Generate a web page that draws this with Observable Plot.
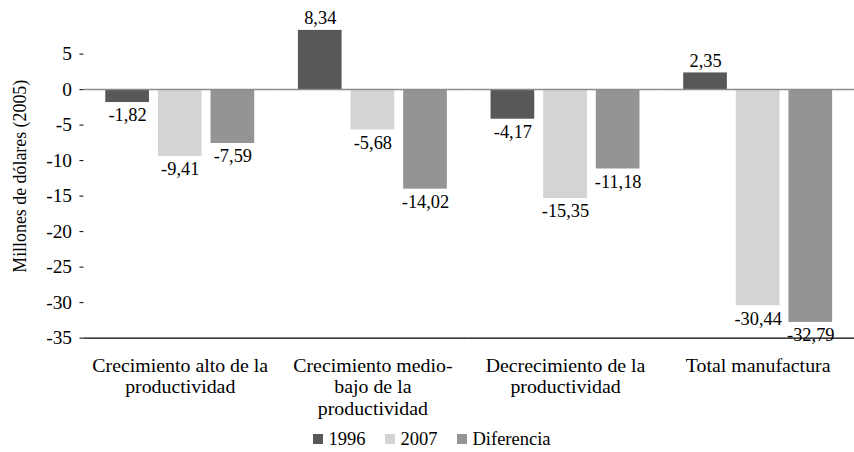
<!DOCTYPE html>
<html><head><meta charset="utf-8">
<script src="https://cdn.jsdelivr.net/npm/d3@7"></script>
<script src="https://cdn.jsdelivr.net/npm/@observablehq/plot@0.6"></script>
<style>
html,body{margin:0;padding:0;background:#fff;overflow:hidden;}
#chart{width:854px;height:428px;overflow:hidden;font-family:"Liberation Serif",serif;}
#legend{width:854px;display:flex;justify-content:center;padding-left:10px;box-sizing:border-box;}
.lg-swatches{margin:0 !important;font-family:"Liberation Serif",serif !important;font-size:18.5px !important;color:#000;}
.lg-swatches-wrap{min-height:0 !important;justify-content:center;height:22px;}
.lg-swatch{margin-right:20px !important;}
.lg-swatch:last-child{margin-right:0 !important;}
.lg-swatch svg{margin-right:5px !important;}
</style></head><body><div id="chart"></div><div id="legend"></div><script>
const categories = ["Crecimiento alto de la\nproductividad", "Crecimiento medio-\nbajo de la\nproductividad", "Decrecimiento de la\nproductividad", "Total manufactura"];
const series = ["1996", "2007", "Diferencia"];
const values1996 = [-1.82, 8.34, -4.17, 2.35];
const values2007 = [-9.41, -5.68, -15.35, -30.44];
const valuesDif = [-7.59, -14.02, -11.18, -32.79];
const yTicks = [5, 0, -5, -10, -15, -20, -25, -30, -35];
const colors = ["#58585a", "#d4d4d6", "#949496"];
const yLabel = "Millones de dólares (2005)";

const seriesValues = [values1996, values2007, valuesDif];
const data = [];
categories.forEach((c, i) => series.forEach((s, j) => data.push({cat: c, serie: s, value: seriesValues[j][i]})));
const fmt = v => v.toFixed(2).replace(".", ",");

const plot = Plot.plot({
  width: 860,
  height: 428,
  marginLeft: 84,
  marginRight: 0,
  marginTop: 54,
  marginBottom: 88,
  style: {fontFamily: "Liberation Serif", fontSize: "18px", color: "#000", background: "#fff", overflow: "visible"},
  fx: {domain: categories, padding: 0, label: null},
  x: {domain: series, paddingInner: 0.178, paddingOuter: 0.4, axis: null},
  y: {domain: [-35, 5], label: null},
  color: {domain: series, range: colors},
  marks: [
    Plot.barY(data, {fx: "cat", x: "serie", y: "value", fill: "serie"}),
    Plot.ruleY([0], {stroke: "#8c8c8c", strokeWidth: 1.5}),
    Plot.ruleY([-35], {stroke: "#000", strokeWidth: 1.3}),
    Plot.text(data.filter(d => d.value < 0), {fx: "cat", x: "serie", y: "value", text: d => fmt(d.value), dy: 13, fill: "#000", fontSize: 18.5}),
    Plot.text(data.filter(d => d.value >= 0), {fx: "cat", x: "serie", y: "value", text: d => fmt(d.value), dy: -12, fill: "#000", fontSize: 18.5}),
    Plot.axisY({ticks: yTicks, tickFormat: d => String(d), tickSize: 4, tickPadding: 8, label: null, line: true, stroke: "#000", fontSize: 19.5}),
    Plot.axisFx({anchor: "bottom", tickSize: 0, tickPadding: 18, lineHeight: 1.1, label: null, fontSize: 20}),
    Plot.text([yLabel], {fx: () => categories[0], text: d => d, frameAnchor: "left", textAnchor: "middle", rotate: -90, dx: -64, dy: -20, fill: "#000", fontSize: 18})
  ]
});
document.getElementById("chart").appendChild(plot);
const leg = Plot.legend({color: {domain: series, range: colors}, legend: "swatches", swatchSize: 10, className: "lg"});
document.getElementById("legend").appendChild(leg);
</script></body></html>
